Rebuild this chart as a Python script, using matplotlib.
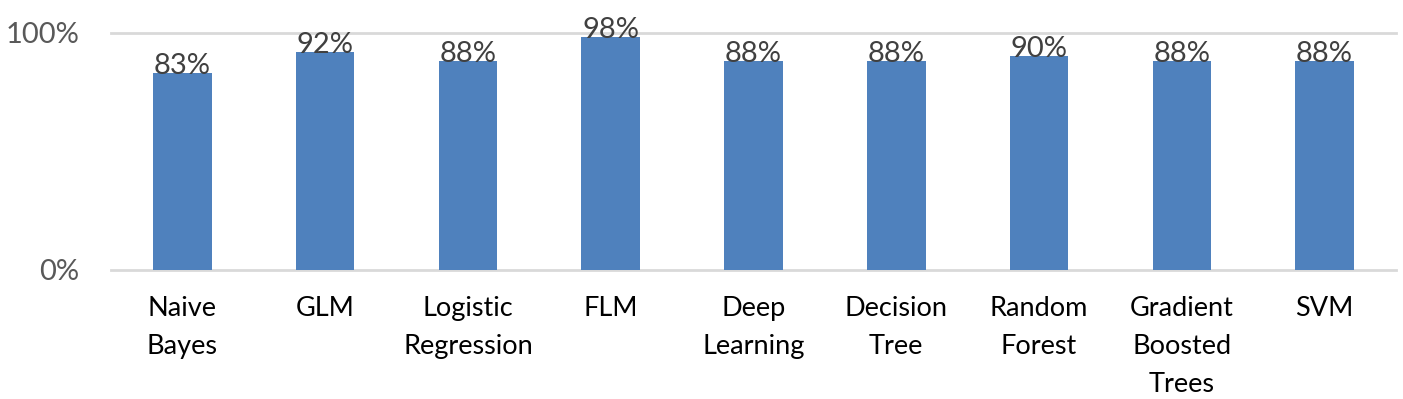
import matplotlib
matplotlib.use("Agg")
import matplotlib.pyplot as plt

plt.rcParams['font.family'] = ['Lato', 'DejaVu Sans']

models = ["Naive\nBayes", "GLM", "Logistic\nRegression", "FLM", "Deep\nLearning",
          "Decision\nTree", "Random\nForest", "Gradient\nBoosted\nTrees", "SVM"]
accuracy = [0.83, 0.92, 0.88, 0.98, 0.88, 0.88, 0.90, 0.88, 0.88]
yticks = [0, 1]
ytick_labels = ["0%", "100%"]

fig = plt.figure(figsize=(14.03, 3.99), dpi=100)
ax = fig.add_axes([111 / 1403, 1 - 270 / 399, (1396 - 111) / 1403, (270 - 32.5) / 399])

x = range(len(models))
ax.bar(x, accuracy, width=0.41, color="#4F81BD", zorder=3)
for xi, v in zip(x, accuracy):
    ax.text(xi, v - 0.005, f"{round(v * 100)}%", ha="center", va="baseline",
            fontsize=21, color="#404040", zorder=4)

ax.set_xlim(-0.5, len(models) - 0.5)
ax.set_ylim(0, 1)
ax.set_yticks(yticks)
ax.set_yticklabels(ytick_labels, fontsize=21, color="#595959")
ax.set_xticks(list(x))
ax.set_xticklabels(models, fontsize=19.5, color="black", linespacing=1.63, va="top")
ax.tick_params(axis="y", length=0, pad=23)
ax.tick_params(axis="x", length=0, pad=19)
for yv in yticks:
    ax.axhline(yv, color="#D9D9D9", lw=2.0, zorder=1, clip_on=False)
for s in ax.spines.values():
    s.set_visible(False)

fig.savefig("out.png", dpi=100)
